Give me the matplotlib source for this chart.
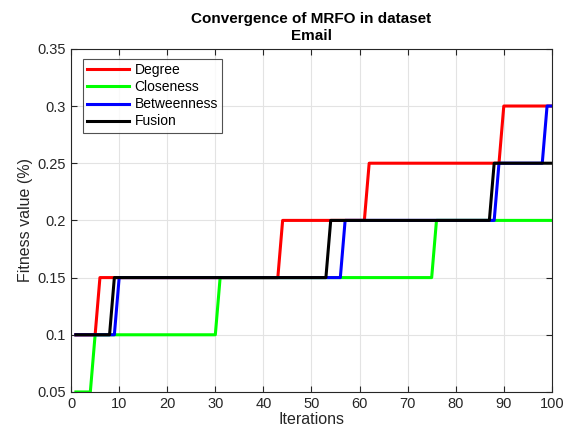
import numpy as np
import matplotlib
matplotlib.use('Agg')
import matplotlib.pyplot as plt

plt.rcParams['font.family'] = ['Liberation Sans', 'DejaVu Sans']

iterations = np.arange(1, 101)

# (last iteration of each level, level value)
degree_steps = [(5, 0.10), (43, 0.15), (61, 0.20), (89, 0.25), (100, 0.30)]
closeness_steps = [(4, 0.05), (30, 0.10), (75, 0.15), (100, 0.20)]
betweenness_steps = [(9, 0.10), (56, 0.15), (88, 0.20), (98, 0.25), (100, 0.30)]
fusion_steps = [(8, 0.10), (53, 0.15), (87, 0.20), (100, 0.25)]

names = ['Degree', 'Closeness', 'Betweenness', 'Fusion']
colors = ['#ff0000', '#00ff00', '#0000ff', '#000000']


def expand(steps):
    vals = []
    start = 1
    for last, v in steps:
        vals += [v] * (last - start + 1)
        start = last + 1
    return np.array(vals)


series = [expand(s) for s in [degree_steps, closeness_steps, betweenness_steps, fusion_steps]]

fig = plt.figure(figsize=(5.71, 4.36), dpi=100)
ax = fig.add_axes([0.1245, 0.101, 0.842, 0.787])

for y, name, c in zip(series, names, colors):
    ax.plot(iterations, y, color=c, lw=2.2, label=name)

ax.set_xlim(0, 100)
ax.set_ylim(0.05, 0.35)
ax.set_xticks(np.arange(0, 101, 10))
ax.set_yticks([0.05, 0.1, 0.15, 0.2, 0.25, 0.3, 0.35])
ax.set_yticklabels(['0.05', '0.1', '0.15', '0.2', '0.25', '0.3', '0.35'])
ax.grid(True, color='#e3e3e3', lw=0.8)
ax.tick_params(direction='in', top=True, right=True, labelsize=10.5,
               colors='#262626', length=4)
for sp in ax.spines.values():
    sp.set_color('#262626')
    sp.set_linewidth(0.8)

ax.set_xlabel('Iterations', fontsize=11.5, color='#262626', labelpad=1)
ax.set_ylabel('Fitness value (%)', fontsize=11.5, color='#262626', labelpad=3)
ax.set_title('Convergence of MRFO in dataset\nEmail', fontsize=11,
             fontweight='bold', linespacing=1.3, pad=6)

leg = ax.legend(loc='upper left', bbox_to_anchor=(0.025, 0.97), fontsize=10,
                frameon=True, fancybox=False, edgecolor='#262626',
                handlelength=3.0, handletextpad=0.4, borderpad=0.3,
                labelspacing=0.22, borderaxespad=0)
leg.get_frame().set_linewidth(0.8)

fig.savefig('out.png', dpi=100)
